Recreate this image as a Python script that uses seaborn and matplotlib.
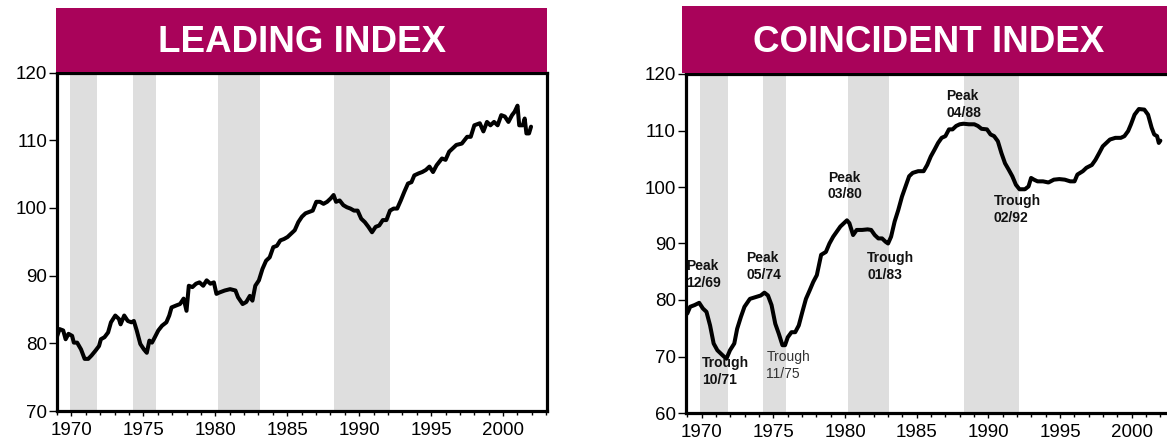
import matplotlib
matplotlib.use("Agg")
import matplotlib.pyplot as plt
from matplotlib.patches import Rectangle
from matplotlib.ticker import MultipleLocator
import seaborn as sns
import pandas as pd

# ---------------- data ----------------
lead_years = [1969.0, 1969.18, 1969.43, 1969.6, 1969.8, 1970.05, 1970.17, 1970.4, 1970.67, 1970.92,
              1971.17, 1971.4, 1971.67, 1971.92, 1972.05, 1972.3, 1972.55, 1972.75, 1973.05, 1973.3,
              1973.42, 1973.67, 1973.92, 1974.17, 1974.34, 1974.54, 1974.79, 1975.04, 1975.24, 1975.42,
              1975.6, 1975.8, 1976.04, 1976.3, 1976.6, 1976.8, 1976.96, 1977.3, 1977.55, 1977.8,
              1978.0, 1978.16, 1978.41, 1978.66, 1978.9, 1979.16, 1979.4, 1979.66, 1979.9, 1980.08,
              1980.28, 1980.66, 1981.03, 1981.4, 1981.58, 1981.9, 1982.15, 1982.4, 1982.58, 1982.78,
              1983.03, 1983.28, 1983.53, 1983.78, 1984.03, 1984.28, 1984.52, 1984.77, 1985.02, 1985.27,
              1985.52, 1985.77, 1986.02, 1986.27, 1986.52, 1986.77, 1987.02, 1987.27, 1987.52, 1987.77,
              1988.02, 1988.22, 1988.39, 1988.64, 1988.9, 1989.14, 1989.39, 1989.64, 1989.89, 1990.14,
              1990.39, 1990.64, 1990.89, 1991.14, 1991.39, 1991.64, 1991.89, 1992.14, 1992.39, 1992.64,
              1992.89, 1993.14, 1993.39, 1993.63, 1993.83, 1994.13, 1994.38, 1994.63, 1994.88, 1995.13,
              1995.38, 1995.75, 1996.0, 1996.25, 1996.5, 1996.75, 1997.13, 1997.5, 1997.75, 1998.0,
              1998.38, 1998.63, 1998.88, 1999.12, 1999.37, 1999.62, 1999.87, 2000.12, 2000.37, 2000.62,
              2000.8, 2001.0, 2001.12, 2001.37, 2001.5, 2001.62, 2001.8, 2001.94]
lead_values = [81.0, 82.1, 81.9, 80.6, 81.4, 81.1, 80.1, 80.1, 79.1, 77.7,
               77.7, 78.2, 78.9, 79.6, 80.6, 80.9, 81.6, 83.1, 84.1, 83.6,
               82.8, 84.1, 83.3, 83.1, 83.3, 81.9, 79.9, 79.1, 78.6, 80.4,
               80.1, 80.9, 81.9, 82.6, 83.1, 84.1, 85.3, 85.6, 85.8, 86.6,
               84.8, 88.5, 88.3, 88.8, 89.0, 88.5, 89.3, 88.8, 89.0, 87.3,
               87.5, 87.8, 88.0, 87.8, 86.8, 85.8, 86.1, 87.0, 86.3, 88.5,
               89.3, 91.0, 92.2, 92.7, 94.2, 94.4, 95.2, 95.4, 95.7, 96.2,
               96.7, 97.9, 98.7, 99.2, 99.4, 99.6, 100.9, 100.9, 100.6, 100.9,
               101.4, 101.9, 100.9, 101.1, 100.4, 100.1, 99.9, 99.6, 99.6, 98.4,
               97.9, 97.2, 96.4, 97.2, 97.4, 98.2, 98.2, 99.6, 99.9, 99.9,
               101.1, 102.4, 103.6, 103.8, 104.8, 105.1, 105.3, 105.6, 106.1, 105.3,
               106.3, 107.3, 107.1, 108.3, 108.8, 109.3, 109.5, 110.5, 110.5, 112.2,
               112.5, 111.3, 112.7, 112.2, 112.7, 112.2, 113.7, 113.5, 112.7, 113.7,
               114.2, 115.1, 112.2, 112.2, 113.2, 111.0, 111.0, 112.0]

coin_years = [1968.99, 1969.19, 1969.5, 1969.82, 1970.08, 1970.33, 1970.58, 1970.83, 1971.09, 1971.46,
              1971.72, 1971.97, 1972.27, 1972.47, 1972.73, 1972.98, 1973.36, 1973.74, 1974.12, 1974.37,
              1974.62, 1974.87, 1975.13, 1975.38, 1975.63, 1975.81, 1976.0, 1976.26, 1976.52, 1976.77,
              1977.02, 1977.27, 1977.53, 1977.78, 1978.03, 1978.33, 1978.66, 1978.91, 1979.17, 1979.42,
              1979.67, 1979.92, 1980.13, 1980.3, 1980.56, 1980.81, 1981.19, 1981.57, 1981.82, 1982.07,
              1982.32, 1982.58, 1982.83, 1983.0, 1983.21, 1983.46, 1983.71, 1983.97, 1984.22, 1984.47,
              1984.72, 1985.1, 1985.48, 1985.73, 1985.98, 1986.24, 1986.49, 1986.74, 1987.0, 1987.25,
              1987.5, 1987.75, 1988.0, 1988.26, 1988.64, 1989.02, 1989.27, 1989.52, 1989.9, 1990.15,
              1990.4, 1990.66, 1990.91, 1991.16, 1991.41, 1991.67, 1991.92, 1992.17, 1992.55, 1992.8,
              1992.98, 1993.18, 1993.43, 1993.81, 1994.19, 1994.57, 1994.95, 1995.33, 1995.71, 1996.01,
              1996.21, 1996.59, 1996.84, 1997.22, 1997.47, 1997.73, 1997.98, 1998.23, 1998.48, 1998.86,
              1999.24, 1999.49, 1999.75, 1999.95, 2000.2, 2000.5, 2000.88, 2001.14, 2001.39, 2001.57,
              2001.77, 2001.89, 2002.0]
coin_values = [77.6, 78.8, 79.1, 79.5, 78.5, 77.9, 75.5, 72.3, 71.1, 70.2,
               69.6, 71.1, 72.3, 74.9, 77.0, 78.8, 80.2, 80.5, 80.8, 81.3,
               80.8, 79.1, 75.8, 74.0, 72.0, 72.0, 73.4, 74.3, 74.3, 75.5,
               77.9, 80.2, 81.7, 83.2, 84.4, 88.0, 88.5, 90.0, 91.2, 92.1,
               93.0, 93.6, 94.1, 93.6, 91.5, 92.4, 92.4, 92.5, 92.4, 91.5,
               90.9, 90.9, 90.3, 90.0, 91.2, 93.9, 95.9, 98.3, 100.1, 101.9,
               102.5, 102.8, 102.8, 103.9, 105.4, 106.6, 107.8, 108.7, 109.0, 110.2,
               110.2, 110.8, 111.1, 111.2, 111.1, 111.1, 110.8, 110.3, 110.2, 109.3,
               109.0, 108.1, 106.0, 104.2, 103.1, 101.9, 100.4, 99.6, 99.6, 100.1,
               101.6, 101.3, 101.0, 101.0, 100.8, 101.3, 101.4, 101.3, 101.0, 101.0,
               102.2, 102.8, 103.4, 103.9, 104.8, 106.0, 107.2, 107.8, 108.4, 108.7,
               108.7, 109.0, 109.9, 111.1, 112.8, 113.8, 113.7, 112.8, 110.5, 109.3,
               109.0, 107.8, 108.2]

# shaded periods (peak, trough)
shade_start = [1969.87, 1974.3, 1980.2, 1988.27]
shade_end = [1971.8, 1975.9, 1983.08, 1992.15]

# turning-point labels on the coincident index
ann_text = ["Peak\n12/69", "Trough\n10/71", "Peak\n05/74", "Trough\n11/75",
            "Peak\n03/80", "Trough\n01/83", "Peak\n04/88", "Trough\n02/92"]
ann_x = [1968.91, 1970.0, 1973.12, 1974.51, 1978.79, 1981.54, 1987.06, 1990.35]
ann_y = [87.2, 70.1, 88.7, 71.1, 102.9, 88.7, 117.3, 98.7]
ann_bold = [True, True, True, False, True, True, True, True]

lead_ticks = [70, 80, 90, 100, 110, 120]
coin_ticks = [60, 70, 80, 90, 100, 110, 120]
year_ticks = [1970, 1975, 1980, 1985, 1990, 1995, 2000]

# ---------------- style ----------------
sns.set_theme(style="ticks")
plt.rcParams["font.family"] = ["Liberation Sans", "DejaVu Sans"]

W, H = 1167, 447
fig = plt.figure(figsize=(W / 100, H / 100), dpi=100)
BAR = "#A9035A"
GRAY = "#DEDEDE"


def fx(px):
    return px / W


def fy(py):
    return 1 - py / H


ax1 = fig.add_axes([fx(57), fy(411), fx(547 - 57), (411 - 72.5) / H])
ax2 = fig.add_axes([fx(685.7), fy(413), fx(489), (413 - 74) / H])

lead = pd.DataFrame({"year": lead_years, "value": lead_values})
coin = pd.DataFrame({"year": coin_years, "value": coin_values})

for ax, df, ticks, xl in [(ax1, lead, lead_ticks, (1969.0, 2003.05)),
                          (ax2, coin, coin_ticks, (1968.88, 2003.0))]:
    for s, e in zip(shade_start, shade_end):
        ax.axvspan(s, e, color=GRAY, lw=0, zorder=0)
    sns.lineplot(data=df, x="year", y="value", ax=ax, color="black", lw=2.9,
                 zorder=3, solid_joinstyle="round")
    ax.set_xlim(*xl)
    ax.set_ylim(ticks[0], ticks[-1])
    ax.set_yticks(ticks)
    ax.set_xticks(year_ticks)
    ax.xaxis.set_minor_locator(MultipleLocator(1))
    ax.set_xlabel("")
    ax.set_ylabel("")
    for sp in ax.spines.values():
        sp.set_visible(True)
        sp.set_linewidth(2.3)
        sp.set_color("black")
    ax.tick_params(axis="y", which="major", length=5.5, width=1.0, pad=1.5,
                   labelsize=13.5, colors="black")
    ax.tick_params(axis="x", which="major", length=3.5, width=1.0, pad=4.5,
                   labelsize=13.5, colors="black")
    ax.tick_params(axis="x", which="minor", length=3.0, width=1.0, colors="black")
    ax.set_facecolor("white")

for t, x, y, b in zip(ann_text, ann_x, ann_y, ann_bold):
    ax2.text(x, y, t, ha="left", va="top", fontsize=10,
             fontweight="bold" if b else "normal",
             color="#111111" if b else "#333333", linespacing=1.25, zorder=4)

# title bars
fig.add_artist(Rectangle((fx(56), fy(72)), fx(547 - 56), (72 - 8) / H,
                         transform=fig.transFigure, facecolor=BAR, edgecolor="none"))
fig.add_artist(Rectangle((fx(682), fy(73)), fx(1200 - 682), (73 - 6) / H,
                         transform=fig.transFigure, facecolor=BAR, edgecolor="none"))
fig.text(fx(301.5), fy(52), "LEADING INDEX", color="white", fontsize=26.5,
         fontweight="bold", ha="center", va="baseline")
fig.text(fx(928.5), fy(52), "COINCIDENT INDEX", color="white", fontsize=26.5,
         fontweight="bold", ha="center", va="baseline")

fig.savefig("out.png", dpi=100)
